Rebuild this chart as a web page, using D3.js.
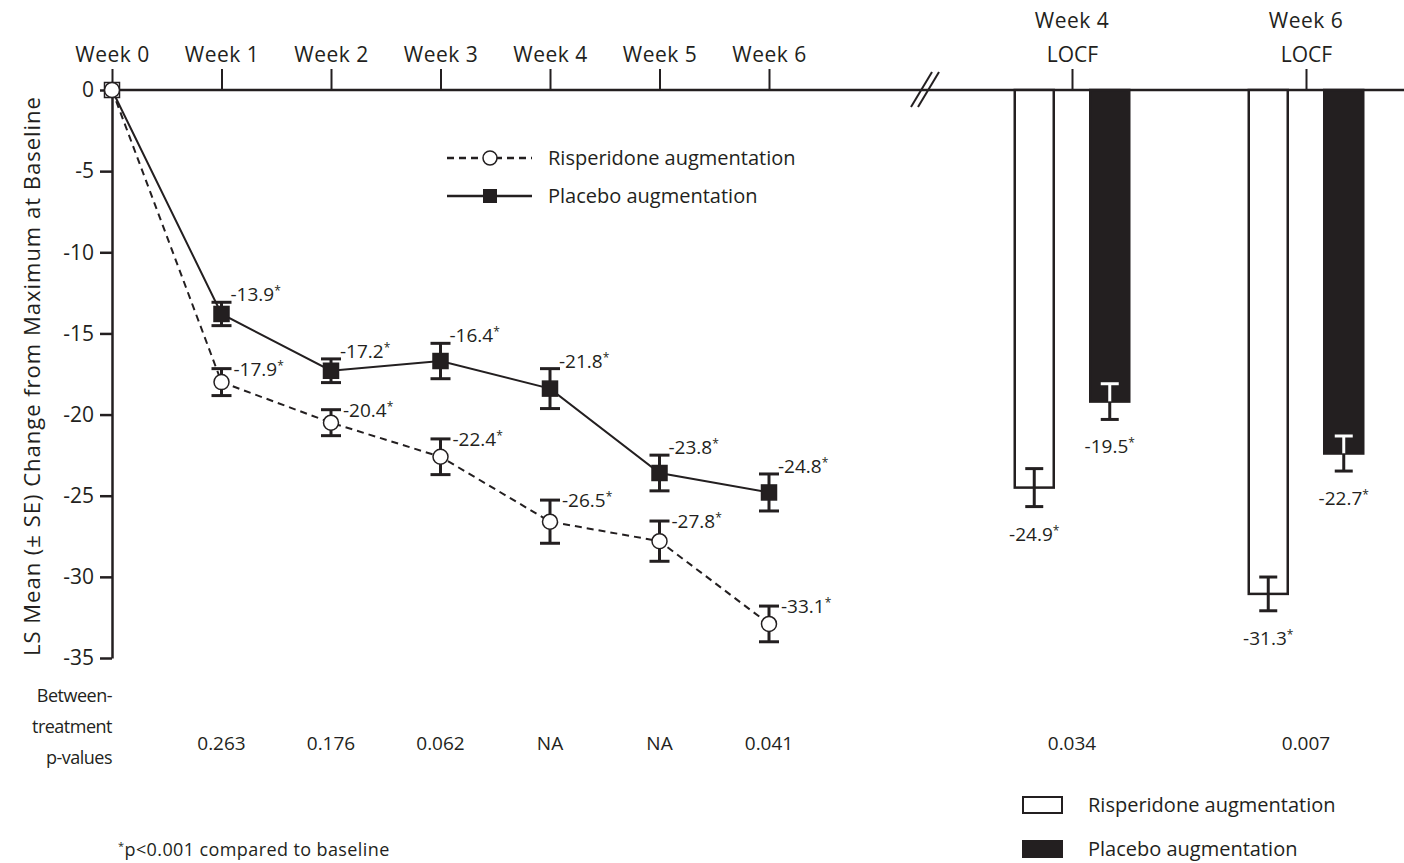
<!DOCTYPE html>
<html>
<head>
<meta charset="utf-8">
<script src="https://cdn.jsdelivr.net/npm/d3@7"></script>
<style>
  body { margin: 0; background: #fff; }
  text { font-family: "Open Sans", Lato, sans-serif; fill: #231f20; }
</style>
</head>
<body>
<script>
var w = 1404
var h = 863
var ink = "#231f20"
var ff = "Open Sans"
var font = 21
var small = 19

// line chart data (observed cases)
var weeks = ["Week 0", "Week 1", "Week 2", "Week 3", "Week 4", "Week 5", "Week 6"]
var risMean = [0, -18.0, -20.5, -22.6, -26.6, -27.8, -32.9]
var risSE = [0, 0.83, 0.8, 1.1, 1.33, 1.24, 1.1]
var risLabels = ["", "-17.9*", "-20.4*", "-22.4*", "-26.5*", "-27.8*", "-33.1*"]
var plaMean = [0, -13.8, -17.3, -16.7, -18.4, -23.6, -24.8]
var plaSE = [0, 0.72, 0.73, 1.09, 1.23, 1.1, 1.14]
var plaLabels = ["", "-13.9*", "-17.2*", "-16.4*", "-21.8*", "-23.8*", "-24.8*"]
var pValues = ["", "0.263", "0.176", "0.062", "NA", "NA", "0.041"]

// LOCF bars
var locfGroups = ["Week 4", "Week 6"]
var locfRis = [-24.5, -31.05]
var locfRisSE = [1.17, 1.04]
var locfRisLabels = ["-24.9*", "-31.3*"]
var locfPla = [-19.2, -22.4]
var locfPlaSE = [1.1, 1.08]
var locfPlaLabels = ["-19.5*", "-22.7*"]
var locfP = ["0.034", "0.007"]

var yTicks = [0, -5, -10, -15, -20, -25, -30, -35]

var svg = d3.select("body").append("svg")
            .attr("width", w)
            .attr("height", h)

var x = d3.scaleLinear().domain([0, 6]).range([112, 769])
var y = d3.scaleLinear().domain([0, -35]).range([90, 658])
var xg = d3.scalePoint().domain(locfGroups).range([1072, 1306])
var xs = d3.scaleBand().domain(["ris", "pla"]).range([-57.25, 57.25]).paddingInner(0.4834)

// writes "-13.9*" as number plus a small raised asterisk
function starLabel(sel) {
  sel.each(function(d) {
    var s = typeof d === "string" ? d : d.lab
    var t = d3.select(this)
    if(!s) return
    t.append("tspan").text(s.replace("*", ""))
    t.append("tspan").attr("font-size", 12).attr("dy", -6).text("*")
  })
}

// horizontal baseline running across both panels
svg.append("line")
    .attr("x1", x(0)).attr("x2", w)
    .attr("y1", y(0)).attr("y2", y(0))
    .attr("stroke", ink).attr("stroke-width", 2.5)

// y axis
var yAxis = svg.append("g")
    .attr("transform", "translate(" + x(0) + ",0)")
    .call(d3.axisLeft(y).tickValues(yTicks).tickSize(12).tickPadding(6).tickSizeOuter(0)
          .tickFormat(function(d) { return String(d) }))
yAxis.select(".domain").attr("stroke", ink).attr("stroke-width", 2.5)
yAxis.selectAll(".tick line").attr("stroke", ink).attr("stroke-width", 2.5)
yAxis.selectAll("text").attr("font-size", font).attr("font-family", ff).attr("fill", ink)

// top week axis
var topAxis = svg.append("g")
    .attr("transform", "translate(0," + y(0) + ")")
    .call(d3.axisTop(x).tickValues(d3.range(7)).tickSize(21).tickPadding(7)
          .tickFormat(function(d) { return weeks[d] }))
topAxis.select(".domain").remove()
topAxis.selectAll(".tick line").attr("stroke", ink).attr("stroke-width", 2)
topAxis.selectAll("text").attr("font-size", font).attr("font-family", ff).attr("fill", ink)
    .attr("letter-spacing", 0.5)

// LOCF ticks and labels
var locfAxis = svg.append("g")
    .attr("transform", "translate(0," + y(0) + ")")
    .call(d3.axisTop(xg).tickSize(21).tickPadding(7).tickFormat(function() { return "LOCF" }))
locfAxis.select(".domain").remove()
locfAxis.selectAll(".tick line").attr("stroke", ink).attr("stroke-width", 2)
locfAxis.selectAll("text").attr("font-size", font).attr("font-family", ff).attr("fill", ink)
svg.selectAll(".locfweek")
    .data(locfGroups)
    .enter().append("text")
    .attr("x", function(d) { return xg(d) })
    .attr("y", 28)
    .attr("text-anchor", "middle")
    .attr("font-size", font)
    .attr("letter-spacing", 0.5)
    .text(function(d) { return d })

// axis break
svg.selectAll(".brk")
    .data([0, 7])
    .enter().append("line")
    .attr("x1", function(d) { return 911 + d }).attr("y1", 107)
    .attr("x2", function(d) { return 932 + d }).attr("y2", 72)
    .attr("stroke", ink).attr("stroke-width", 2)

// y axis title
svg.append("text")
    .attr("transform", "translate(40,376) rotate(-90)")
    .attr("text-anchor", "middle")
    .attr("font-size", 22)
    .attr("letter-spacing", 1)
    .text("LS Mean (\u00b1 SE) Change from Maximum at Baseline")

// lines
var line = d3.line()
    .x(function(d, i) { return x(i) })
    .y(function(d) { return y(d) })

svg.append("path")
    .datum(plaMean)
    .attr("d", line)
    .attr("fill", "none").attr("stroke", ink).attr("stroke-width", 2)

svg.append("path")
    .datum(risMean)
    .attr("d", line)
    .attr("fill", "none").attr("stroke", ink).attr("stroke-width", 2)
    .attr("stroke-dasharray", "7,5")

// error bars for points
function errorBars(mean, se, cls) {
  var g = svg.selectAll("." + cls)
    .data(mean.map(function(m, i) { return {i: i, m: m, se: se[i]} }).filter(function(d) { return d.i > 0 }))
    .enter().append("g").attr("class", cls)
  g.append("line")
    .attr("x1", function(d) { return x(d.i) }).attr("x2", function(d) { return x(d.i) })
    .attr("y1", function(d) { return y(d.m + d.se) }).attr("y2", function(d) { return y(d.m - d.se) })
    .attr("stroke", ink).attr("stroke-width", 3)
  g.selectAll(".cap")
    .data(function(d) { return [{i: d.i, v: d.m + d.se}, {i: d.i, v: d.m - d.se}] })
    .enter().append("line")
    .attr("x1", function(d) { return x(d.i) - 10 }).attr("x2", function(d) { return x(d.i) + 10 })
    .attr("y1", function(d) { return y(d.v) }).attr("y2", function(d) { return y(d.v) })
    .attr("stroke", ink).attr("stroke-width", 3)
}
errorBars(plaMean, plaSE, "epla")
errorBars(risMean, risSE, "eris")

// placebo squares
svg.selectAll(".sq")
    .data(plaMean)
    .enter().append("rect")
    .attr("x", function(d, i) { return x(i) - 7.5 })
    .attr("y", function(d) { return y(d) - 7.5 })
    .attr("width", 15).attr("height", 15)
    .attr("fill", function(d, i) { return i === 0 ? "#fff" : ink })
    .attr("stroke", ink).attr("stroke-width", 1.5)

// risperidone circles
svg.selectAll(".circ")
    .data(risMean)
    .enter().append("circle")
    .attr("cx", function(d, i) { return x(i) })
    .attr("cy", function(d) { return y(d) })
    .attr("r", 7.5)
    .attr("fill", "#fff")
    .attr("stroke", ink).attr("stroke-width", 1.5)

// point labels
svg.selectAll(".plab")
    .data(plaLabels)
    .enter().append("text")
    .attr("x", function(d, i) { return x(i) + 9 })
    .attr("y", function(d, i) { return y(plaMean[i] + plaSE[i]) - 1 })
    .attr("font-size", small)
    .call(starLabel)

svg.selectAll(".rlab")
    .data(risLabels)
    .enter().append("text")
    .attr("x", function(d, i) { return x(i) + 12 })
    .attr("y", function(d, i) { return y(risMean[i] + risSE[i]) + 7 })
    .attr("font-size", small)
    .call(starLabel)

// LOCF bars
function bars(vals, se, labs, key, fill) {
  var g = svg.selectAll(".bar-" + key)
    .data(vals.map(function(v, i) { return {g: locfGroups[i], v: v, se: se[i], lab: labs[i]} }))
    .enter().append("g").attr("class", "bar-" + key)
  g.append("rect")
    .attr("x", function(d) { return xg(d.g) + xs(key) })
    .attr("y", y(0))
    .attr("width", xs.bandwidth())
    .attr("height", function(d) { return y(d.v) - y(0) })
    .attr("fill", fill)
    .attr("stroke", ink).attr("stroke-width", 2.5)
  var cx = function(d) { return xg(d.g) + xs(key) + xs.bandwidth() / 2 }
  var inner = fill === ink ? "#fff" : ink
  // upper half sits inside the bar
  g.append("line")
    .attr("x1", cx).attr("x2", cx)
    .attr("y1", function(d) { return y(d.v + d.se) }).attr("y2", function(d) { return y(d.v) })
    .attr("stroke", inner).attr("stroke-width", 3)
  g.append("line")
    .attr("x1", function(d) { return cx(d) - 9 }).attr("x2", function(d) { return cx(d) + 9 })
    .attr("y1", function(d) { return y(d.v + d.se) }).attr("y2", function(d) { return y(d.v + d.se) })
    .attr("stroke", inner).attr("stroke-width", 3)
  g.append("line")
    .attr("x1", cx).attr("x2", cx)
    .attr("y1", function(d) { return y(d.v) }).attr("y2", function(d) { return y(d.v - d.se) })
    .attr("stroke", ink).attr("stroke-width", 3)
  g.append("line")
    .attr("x1", function(d) { return cx(d) - 9 }).attr("x2", function(d) { return cx(d) + 9 })
    .attr("y1", function(d) { return y(d.v - d.se) }).attr("y2", function(d) { return y(d.v - d.se) })
    .attr("stroke", ink).attr("stroke-width", 3)
  g.append("text")
    .attr("x", cx)
    .attr("y", function(d) { return y(d.v - d.se) + 34 })
    .attr("text-anchor", "middle")
    .attr("font-size", small)
    .call(starLabel)
}
bars(locfRis, locfRisSE, locfRisLabels, "ris", "#fff")
bars(locfPla, locfPlaSE, locfPlaLabels, "pla", ink)

// top legend
var leg = svg.append("g")
var legItems = [
  {name: "Risperidone augmentation", dash: "7,5", y: 158, mark: "circle"},
  {name: "Placebo augmentation", dash: null, y: 196, mark: "rect"}
]
legItems.forEach(function(d) {
  leg.append("line")
    .attr("x1", 447).attr("x2", 532).attr("y1", d.y).attr("y2", d.y)
    .attr("stroke", ink).attr("stroke-width", 2.5)
    .attr("stroke-dasharray", d.dash)
  if(d.mark === "circle") {
    leg.append("circle").attr("cx", 490).attr("cy", d.y).attr("r", 7)
      .attr("fill", "#fff").attr("stroke", ink).attr("stroke-width", 1.5)
  } else {
    leg.append("rect").attr("x", 483).attr("y", d.y - 7).attr("width", 14).attr("height", 14)
      .attr("fill", ink)
  }
  leg.append("text")
    .attr("x", 548).attr("y", d.y).attr("dy", "0.35em")
    .attr("font-size", 20)
    .text(d.name)
})

// p-value row
var pLines = ["Between-", "treatment", "p-values"]
svg.selectAll(".phead")
    .data(pLines)
    .enter().append("text")
    .attr("x", 112)
    .attr("y", function(d, i) { return 696 + i * 31 })
    .attr("dy", "0.35em")
    .attr("text-anchor", "end")
    .attr("font-size", 18)
    .attr("letter-spacing", -0.5)
    .text(function(d) { return d })

svg.selectAll(".pval")
    .data(pValues)
    .enter().append("text")
    .attr("x", function(d, i) { return x(i) })
    .attr("y", 743)
    .attr("dy", "0.35em")
    .attr("text-anchor", "middle")
    .attr("font-size", small)
    .text(function(d) { return d })

svg.selectAll(".pvalb")
    .data(locfP)
    .enter().append("text")
    .attr("x", function(d, i) { return xg(locfGroups[i]) })
    .attr("y", 743)
    .attr("dy", "0.35em")
    .attr("text-anchor", "middle")
    .attr("font-size", small)
    .text(function(d) { return d })

// footnote
var foot = svg.append("text")
    .attr("x", 118).attr("y", 856)
    .attr("font-size", 18)
    .attr("letter-spacing", 0.4)
foot.append("tspan").attr("font-size", 11).attr("dy", -6).text("*")
foot.append("tspan").attr("dy", 6).text("p<0.001 compared to baseline")

// bottom legend
var bleg = [
  {name: "Risperidone augmentation", fill: "#fff", y: 805},
  {name: "Placebo augmentation", fill: ink, y: 849}
]
bleg.forEach(function(d) {
  svg.append("rect")
    .attr("x", 1023).attr("y", d.y - 8).attr("width", 39).attr("height", 16)
    .attr("fill", d.fill).attr("stroke", ink).attr("stroke-width", 2)
  svg.append("text")
    .attr("x", 1088).attr("y", d.y).attr("dy", "0.35em")
    .attr("font-size", 20)
    .text(d.name)
})
</script>
</body>
</html>
